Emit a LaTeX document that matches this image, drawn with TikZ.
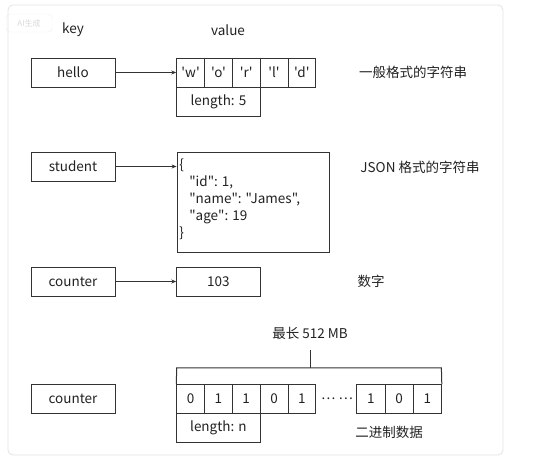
\documentclass[tikz,border=0pt]{standalone}
\usepackage{fontspec}
\setmainfont{Noto Sans CJK SC}[Ligatures=TeXOff]
\usetikzlibrary{arrows.meta}
\definecolor{ink}{HTML}{222222}
\definecolor{edge}{HTML}{333333}
\definecolor{panel}{HTML}{E3E3E3}
\begin{document}
\begin{tikzpicture}[x=1pt,y=-1pt,
  font=\fontsize{13.5}{16}\selectfont, text=ink,
  box/.style={draw=edge,line width=0.8pt,rectangle,inner sep=0pt,minimum height=29pt},
  keybox/.style={box,minimum width=84pt},
  cell/.style={box,minimum width=27.8pt},
  bcell/.style={box,minimum width=28.2pt},
  lenbox/.style={box,minimum width=83.4pt},
  lbl/.style={inner sep=0pt},
  arr/.style={draw=edge,line width=0.8pt,-{Stealth[length=5pt,width=4pt]}},
  brk/.style={draw=edge,line width=1pt}]
\useasboundingbox (0,0) rectangle (541,462);
\fill[white] (0,0) rectangle (541,462);
\draw[panel,line width=0.8pt,rounded corners=5pt] (8,5) rectangle (503,455);
% watermark
\node[lbl,draw=gray!12,rounded corners=4pt,text=gray!30,font=\fontsize{8}{9}\selectfont,minimum width=46pt,minimum height=18pt] (wm) at (29,23) {AI生成};
% headers
\node[lbl] (key) at (73,30) {key};
\node[lbl] (value) at (228,30) {value};
% row 1
\node[keybox] (hello) at (73,72.5) {hello};
\node[cell] (w1) at (190.6,72.5) {'w'};
\node[cell] (w2) at (218.4,72.5) {'o'};
\node[cell] (w3) at (246.2,72.5) {'r'};
\node[cell] (w4) at (274.0,72.5) {'l'};
\node[cell] (w5) at (301.8,72.5) {'d'};
\node[lenbox] (len1) at (218.4,101.5) {length: 5};
\node[lbl] (d1) at (413,72.5) {一般格式的字符串};
\draw[arr] (hello.east) -- (w1.west);
% row 2
\node[keybox] (student) at (73,166.5) {student};
\node[box,minimum width=152pt,minimum height=100pt] (json) at (253,202) {};
\node[lbl,anchor=north west,align=left,font=\fontsize{13.5}{17}\selectfont] (jsontext) at ([xshift=2.5pt,yshift=-7pt]json.north west)
  {\{\\\hspace*{10pt}"id": 1,\\\hspace*{10pt}"name": "James",\\\hspace*{10pt}"age": 19\\\}};
\node[lbl] (d2) at (420,167) {JSON 格式的字符串};
\draw[arr] (student.east) -- (student.east -| json.west);
% row 3
\node[keybox] (counter1) at (73,281.5) {counter};
\node[lenbox] (num) at (218.4,281.5) {103};
\node[lbl] (d3) at (371,281.5) {数字};
\draw[arr] (counter1.east) -- (num.west);
% row 4
\node[keybox] (counter2) at (73,399) {counter};
\node[cell] (b1) at (190.6,399) {0};
\node[cell] (b2) at (218.4,399) {1};
\node[cell] (b3) at (246.2,399) {1};
\node[cell] (b4) at (274.0,399) {0};
\node[cell] (b5) at (301.8,399) {1};
\node[lbl] (dots) at (337,399) {… …};
\node[bcell] (b6) at (370.9,399) {1};
\node[bcell] (b7) at (399.1,399) {0};
\node[bcell] (b8) at (427.3,399) {1};
\node[lenbox] (len2) at (218.4,428) {length: n};
\node[lbl] (d4) at (389,432) {二进制数据};
\coordinate (brL) at (176.7,368);
\coordinate (brR) at (441.4,368);
\coordinate (brM) at (310,368);
\coordinate (brT) at (310,350);
\draw[brk] (b1.north west) -- (brL) -- (brR) -- (b8.north east);
\draw[brk] (brM) -- (brT);
\node[lbl] (maxlen) at (310,333) {最长 512 MB};
\end{tikzpicture}
\end{document}
